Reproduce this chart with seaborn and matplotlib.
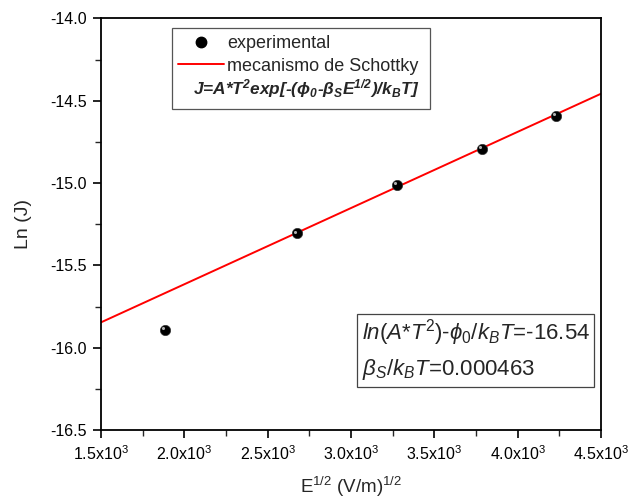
import numpy as np
import pandas as pd
import matplotlib
matplotlib.use("Agg")
import matplotlib.pyplot as plt
import matplotlib.transforms as mtransforms
from matplotlib.lines import Line2D
from matplotlib.patches import Rectangle
from matplotlib.ticker import MultipleLocator, FuncFormatter
import seaborn as sns

# data
e_sqrt = [1884, 2676, 3276, 3786, 4230]
ln_j = [-15.89, -15.305, -15.01, -14.79, -14.59]

# Schottky fit line (ends of the drawn line)
fit_x = [1500, 4500]
fit_y = [-15.846, -14.457]

x_ticks = [1500, 2000, 2500, 3000, 3500, 4000, 4500]
y_ticks = [-16.5, -16.0, -15.5, -15.0, -14.5, -14.0]

sns.set_theme(style="ticks")
plt.rcParams['font.family'] = ['Liberation Sans', 'DejaVu Sans']
plt.rcParams['mathtext.fontset'] = 'custom'
plt.rcParams['mathtext.rm'] = 'Liberation Sans'
plt.rcParams['mathtext.it'] = 'Liberation Sans:italic'
plt.rcParams['mathtext.bf'] = 'Liberation Sans:bold:italic'
plt.rcParams['axes.unicode_minus'] = False

df = pd.DataFrame({'E': e_sqrt, 'lnJ': ln_j})
fit = pd.DataFrame({'E': fit_x, 'lnJ': fit_y})

fig = plt.figure(figsize=(6.3, 5.04), dpi=100)
ax = fig.add_axes([0.1603, 0.1468, 0.7937, 0.8165])

sns.lineplot(x='E', y='lnJ', data=fit, color='red', lw=1.4, ax=ax, zorder=2)
sns.scatterplot(x='E', y='lnJ', data=df, color='black', s=55, edgecolor='#333333',
                linewidth=0.5, ax=ax, zorder=3)
# little highlight on the balls
hl = mtransforms.offset_copy(ax.transData, fig=fig, x=-1.3, y=1.3, units='points')
ax.scatter(e_sqrt, ln_j, s=5, color='#b0b0b0', lw=0, transform=hl, zorder=4)

ax.set_xlim(1500, 4500)
ax.set_ylim(-16.5, -14.0)
ax.set_xticks(x_ticks)
ax.set_yticks(y_ticks)
ax.xaxis.set_minor_locator(MultipleLocator(250))
ax.yaxis.set_minor_locator(MultipleLocator(0.25))
ax.xaxis.set_major_formatter(FuncFormatter(lambda v, p: r'%.1fx10$^{3}$' % (v / 1000)))
ax.yaxis.set_major_formatter(FuncFormatter(lambda v, p: '%.1f' % v))
ax.tick_params(which='major', direction='out', length=6, width=1.2, labelsize=11.5,
               colors='black', pad=4)
ax.tick_params(which='minor', direction='out', length=4, width=1.0)
ax.tick_params(top=False, right=False, which='both')
for s in ax.spines.values():
    s.set_visible(True)
    s.set_linewidth(1.3)
    s.set_color('black')

ax.set_xlabel(r'E$^{1/2}$ (V/m)$^{1/2}$', fontsize=13.5, labelpad=9)
ax.set_ylabel('Ln (J)', fontsize=14, labelpad=13)

# legend box
ax.add_patch(Rectangle((0.143, 0.779), 0.515, 0.198, transform=ax.transAxes,
                       fill=True, facecolor='white', edgecolor='#555555', lw=0.9, zorder=5))
handles = [Line2D([], [], marker='o', ls='none', color='black', markersize=7.5),
           Line2D([], [], color='red', lw=1.4)]
leg = ax.legend(handles, ['experimental', 'mecanismo de Schottky'], loc='upper left',
                bbox_to_anchor=(0.155, 0.960), frameon=False, fontsize=13,
                handlelength=2.5, handletextpad=0.2, labelspacing=0.32,
                borderpad=0, borderaxespad=0)
leg.set_zorder(6)
ax.text(0.41, 0.829,
        r'J=A*T$^{\mathbf{2}}$exp[-($\mathbf{\phi_0}$-$\mathbf{\beta_S}$E$^{\mathbf{1/2}}$)/k$_{\mathbf{B}}$T]',
        transform=ax.transAxes, ha='center', va='center', fontsize=12.4,
        fontweight='bold', style='italic', zorder=7)

# fit result box
ax.add_patch(Rectangle((0.512, 0.104), 0.474, 0.178, transform=ax.transAxes,
                       fill=True, facecolor='white', edgecolor='#444444', lw=0.9, zorder=5))
ax.text(0.521, 0.237, r'$\mathit{ln(A{*}T^2)}$-$\mathit{\phi_0/k_BT}$=-16.54',
        transform=ax.transAxes, ha='left', va='center', fontsize=16, zorder=7)
ax.text(0.521, 0.148, r'$\mathit{\beta_S/k_BT}$=0.000463',
        transform=ax.transAxes, ha='left', va='center', fontsize=16, zorder=7)

plt.savefig('out.png', dpi=100)
